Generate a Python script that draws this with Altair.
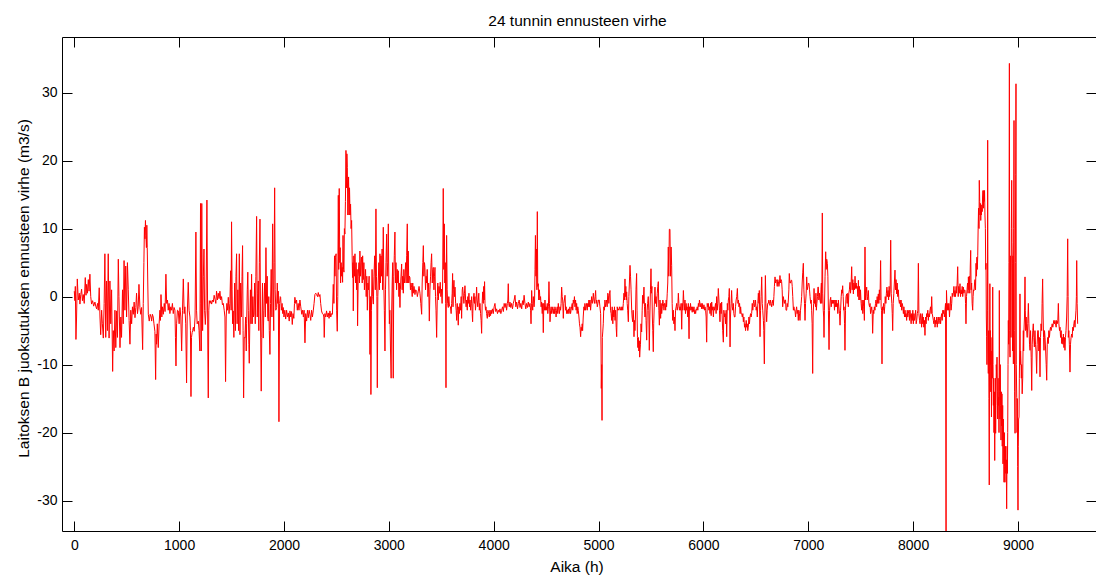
import altair as alt
import pandas as pd

# ---- data (hours, forecast error m3/s) ----
seg_a = [
(0,0.8),(6,-0.6),(10,1.5),(16,-6.3),(22,-3.0),(29,2.6),(38,-0.5),(48,0.5),(54,-1.1),(62,0.3),
(70,1.1),(78,-0.6),(86,0.3),(95,-1.0),(105,2.8),(112,0.2),(118,1.8),(125,0.5),(134,2.5),(141,0.8),
(149,3.3),(157,0.0),(165,-1.1),(175,-0.6),(185,-1.4),(197,-0.8),(205,-1.4),(213,-1.8),(222,-1.0),(229,-2.0),
(238,1.3),(245,-3.0),(252,-5.6),(261,-2.0),(268,-4.0),(277,-6.1),(285,-1.0),(292,6.3),(300,-6.0),(308,2.3),
(316,-5.0),(324,6.3),(332,-6.1),(340,2.3),(348,-4.0),(356,1.0),(366,-11.0),(372,-5.0),(380,-8.0),(388,-2.0),
(396,-7.5),(404,-2.1),(412,-6.0),(420,5.5),(426,0.0),(436,-7.5),(444,-3.0),(451,-6.0),(460,1.0),(467,-4.0),
(475,5.3),(483,-2.0),(491,4.5),(499,-3.0),(507,5.0),(515,1.0),(523,-3.5),(531,-7.0),(539,-2.0),(547,-4.0),
(555,-1.5),(563,-2.6),(571,-0.8),(579,-3.1),(587,-1.6),(594,0.5),(603,-2.5),(610,-1.5),(617,1.8),(626,-1.6),
(634,-2.6),(642,-1.6),(652,-7.8),(658,-1.0),(664,5.0),(669,10.2),(674,8.5),(679,11.2),(683,9.0),(688,7.2),
(692,10.5),(696,7.2),(701,2.0),(706,-2.6),(715,-3.6),(724,-2.6),(733,-3.0),(738,-3.6),(745,-2.6),(753,-3.0),
(760,-4.0),(769,-5.1),(776,-12.2),(781,-5.5),(785,-7.0),(792,-4.0),(801,-7.5),(809,-4.0),(817,-2.0),(822,-3.5),
(827,0.3),(835,-3.0),(841,-1.5),(849,-2.6),(858,-1.0),(866,-2.2),(874,3.3),(881,-1.0),(889,-0.5),(896,-2.0),
(904,-1.0),(912,-2.5),(920,-1.5),(928,-2.0),(936,-1.0),(944,-2.5),(952,-1.6),(960,-2.0),(965,-6.0),(970,-10.2),
(976,-4.0),(984,-2.0),(992,-2.1),(1000,-4.0),(1008,-1.6),(1016,-3.0),(1024,-8.0),(1032,-2.0),(1040,2.6),(1048,-2.5),
(1055,-1.5),(1063,-4.0),(1071,-12.7),(1077,-3.0),(1087,2.1),(1095,-2.0),(1103,-3.0),(1108,-5.0),(1113,-14.7),(1118,-6.0),
(1124,-5.3),(1129,-5.0),(1136,-4.5),(1144,-5.1),(1152,-3.0),(1160,9.5),(1166,-2.0),(1172,-4.0),(1183,-3.6),(1190,-5.0),
(1198,-8.0),(1204,13.7),(1208,-1.0),(1211,-8.0),(1216,13.7),(1220,2.0),(1224,-5.0),(1231,3.0),(1237,7.0),(1243,-2.0),
(1250,-4.1),(1256,-2.0),(1265,14.2),(1270,2.0),(1274,-8.0),(1278,-14.9),(1283,-2.0),(1288,-0.6),(1294,-1.0),(1302,-0.6),
(1310,-1.1),(1318,-0.5),(1326,-0.8),(1334,0.2),(1342,-0.4),(1350,-1.0),(1357,0.8),(1365,-0.5),(1373,0.5),(1381,-0.3),
(1389,0.8),(1397,-0.5),(1405,0.0),(1413,-1.2),(1421,-1.0),(1430,-2.0),(1437,-3.0),(1443,-12.5),(1449,-3.0),(1455,-1.0),
(1462,-2.0),(1469,-0.1),(1476,-2.5),(1484,-1.0),(1491,3.8),(1496,-2.0),(1500,11.0),(1505,1.0),(1510,-4.0),(1516,-2.1),
(1522,-6.0),(1530,2.0),(1537,-5.0),(1542,3.0),(1548,6.3),(1553,-4.0),(1560,1.0),(1567,-5.0),(1574,6.3),(1580,-5.6),
(1587,2.0),(1594,-3.0),(1600,3.0),(1605,7.5),(1610,-5.0),(1615,-14.9),(1621,-6.0),(1628,-6.1),(1634,-3.0),(1640,-8.0),
(1644,-4.0),(1650,1.0),(1655,3.6),(1660,-2.0),(1665,-7.0),(1669,-9.8),(1675,-3.0),(1680,1.0),(1685,-4.0),(1691,3.3),
(1697,-4.0),(1703,0.0),(1709,-3.0),(1714,-2.6),(1720,2.0),(1726,-4.0),(1732,3.0),(1739,11.8),(1745,-3.0),(1750,0.5),
(1755,2.3),(1760,-5.0),(1765,5.0),(1771,11.4),(1776,-3.0),(1783,-13.9),(1788,-6.0),(1795,2.0),(1802,-6.1),(1808,-2.0),
(1815,2.0),(1822,-3.0),(1828,7.2),(1834,-1.0),(1840,3.0),(1845,-3.0),(1850,-3.6),(1855,0.0),(1860,-5.0),(1866,-8.5),
(1872,-1.0),(1878,4.0),(1885,-3.0),(1892,10.7),(1897,2.0),(1902,-5.0),(1906,5.0),(1911,16.0),(1916,1.0),(1922,-2.0),
(1930,-1.6),(1936,2.0),(1941,-1.0),(1946,0.8),(1952,-18.4),(1958,-1.0),(1964,0.0),(1968,-0.1),(1975,-2.0),(1982,-1.0),
(1988,-2.5),(1993,-1.6),(2000,-3.0),(2008,-2.0),(2016,-3.3),(2025,-2.0),(2033,-3.0),(2041,-2.4),(2050,-3.6),(2057,-2.1),
(2065,-3.0),(2072,-2.2),(2079,-4.1),(2086,-2.5),(2094,-3.2),(2100,-1.0),(2104,-0.1),(2112,-1.0),(2120,-0.5),(2127,-2.0),
(2135,-1.0),(2143,-2.0),(2152,-0.5),(2160,-1.5),(2170,-2.6),(2178,-2.0),(2185,-3.0),(2192,-2.0),(2200,-6.8),(2207,-2.5),
(2216,-3.6),(2224,-2.0),(2232,-3.1),(2240,-2.0),(2247,-2.6),(2255,-3.5),(2263,-2.0),(2271,-3.0),(2279,-2.1),(2287,-1.0),
(2295,0.3),(2303,0.5),(2311,0.3),(2320,0.0),(2327,0.6),(2335,0.0),(2343,0.3),(2350,-1.0),(2358,-2.1),(2366,-2.5),
(2375,-2.6),(2380,-3.0),(2384,-6.0),(2390,-2.5),(2398,-3.0),(2406,-2.1),(2414,-3.0),(2422,-2.4),(2430,-3.2),(2438,-2.1),
(2446,-3.0),(2454,-2.5),(2462,-2.6),(2470,1.8),(2476,-1.0),(2482,6.0),(2486,3.0),(2491,5.8),(2497,6.3),(2502,-2.0),
(2508,-5.1),(2513,0.0),(2518,14.9),(2522,4.0),(2527,15.9),(2532,5.0),(2536,7.2),(2540,2.0),(2545,5.0),(2550,3.0),
(2555,4.3),(2559,2.1),(2563,9.0),(2568,4.0),(2572,3.6),(2576,10.0),(2581,9.2),(2586,14.0),(2591,21.5),(2596,16.0),
(2600,21.0),(2604,19.0),(2609,12.0),(2616,17.6),(2621,12.0),(2625,16.0),(2630,12.0),(2635,13.6),(2640,10.0),(2645,11.2),
(2650,6.0),(2654,2.8),(2658,5.0),(2661,-2.1),(2666,6.0),(2672,3.0),(2677,6.3),(2682,2.0),(2688,5.0),(2693,1.0),
(2698,4.0),(2702,-4.3),(2708,3.0),(2715,5.0),(2720,2.0),(2724,6.7),(2730,3.0),(2735,5.0),(2740,5.8),(2746,2.0),
(2750,6.0),(2756,2.5),(2762,5.0),(2767,1.0),(2772,2.5),(2778,4.0),(2784,0.0),(2790,3.0),(2795,-2.0),(2800,2.0),
(2806,1.0),(2812,3.0),(2816,-3.0),(2820,-8.5),(2825,0.0),(2829,-14.4),(2834,-2.0),(2840,4.0),(2846,0.0),(2852,-1.1),
(2858,3.0),(2865,6.0),(2871,1.0),(2877,12.9),(2882,3.0),(2886,0.0),(2890,-13.4),(2895,0.0),(2899,2.3),(2905,5.0),
(2910,1.0),(2915,6.3),(2920,2.0),(2925,6.0),(2931,3.0),(2936,7.0),(2941,1.0),(2947,10.2),(2952,2.0),(2957,-2.0),
(2963,-8.0),(2968,1.0),(2973,5.0),(2979,9.2),(2984,3.0),(2990,5.0),(2995,10.7),(3000,2.0),(3005,-4.0),(3010,-2.0),
(3016,-8.0),(3022,-12.0),(3026,-3.0),(3032,2.0),(3037,5.0),(3042,-12.0),(3047,3.0),(3052,6.0),(3058,9.5),(3063,2.0),
(3068,5.0),(3074,1.0),(3080,4.0),(3085,2.0),(3090,3.8),(3096,0.0),(3100,2.0),(3106,-1.6),(3110,1.0),(3116,3.0),
(3122,4.8),(3127,1.0),(3132,3.0),(3138,0.5),(3143,4.0),(3149,2.0),(3154,3.0),(3160,5.0),(3165,2.0),(3170,6.0),
(3176,10.7),(3180,2.0),(3185,6.7),(3190,2.0),(3196,3.0),(3201,2.8),(3206,1.0),(3212,2.0),(3217,1.3),(3223,0.0),
(3228,2.0),(3233,0.5),(3240,1.5),(3249,0.3),(3256,1.0),(3265,0.8),(3272,0.0),(3281,0.8),(3288,1.5),(3297,0.5),
(3305,-1.0),(3313,-2.6),(3318,2.0),(3324,5.0),(3329,7.5),(3334,3.0),(3340,5.0),(3344,4.3),(3350,1.0),(3356,3.0),
(3360,2.0),(3366,4.0),(3372,0.0),(3380,2.0),(3386,-3.6),(3392,1.0),(3398,3.0),(3403,5.0),(3408,6.3),(3414,2.0),
(3419,4.0),(3424,4.3),(3430,1.0),(3435,3.0),(3440,4.3),(3445,0.0),(3450,-2.0),(3456,-6.0),(3462,0.0),(3467,2.0),
(3472,-0.5),(3478,1.5),(3484,0.5),(3490,2.1),(3496,0.0),(3503,1.1),(3508,-1.0),(3513,2.0),(3519,15.9),(3524,4.0),
(3529,10.7),(3534,2.0),(3538,5.0),(3542,-1.0),(3545,-13.4),(3548,2.0),(3551,9.0),(3556,1.0),(3561,-1.0),(3567,-1.6),
(3572,0.0),(3578,-1.4),
]

seg_b = [
(3588,-1.5),(3594,-2.5),(3599,-1.0),(3604,0.5),(3608,3.4),(3612,-1.5),(3615,1.0),(3621,2.4),(3626,0.0),(3631,1.4),
(3637,-1.0),(3642,-2.0),(3647,-3.5),(3652,-1.0),(3657,-2.0),(3662,-4.2),(3667,-1.5),(3672,-2.5),(3678,-1.0),(3684,-2.0),
(3690,0.0),(3694,-3.2),(3700,1.0),(3704,1.4),(3710,0.2),(3716,-1.0),(3721,0.5),(3726,1.6),(3732,-0.5),(3737,-1.5),
(3742,-0.5),(3748,-2.0),(3753,0.0),(3758,-1.0),(3764,0.5),(3769,-1.5),(3774,-0.5),(3780,-2.0),(3785,-1.0),(3790,0.0),
(3795,-2.5),(3799,-3.7),(3803,-1.0),(3806,-0.5),(3812,0.5),(3816,-1.0),(3821,0.0),(3826,-2.0),(3831,-1.0),(3837,1.4),
(3842,-0.5),(3848,-1.5),(3853,-0.5),(3858,0.5),(3863,-2.0),(3869,-1.0),(3875,-2.5),(3880,-3.5),(3885,-5.4),(3890,-1.0),
(3895,0.7),(3901,-1.0),(3905,1.5),(3909,-0.5),(3913,2.2),(3917,-1.0),(3922,-2.0),(3926,-1.5),(3932,-2.5),(3939,-3.2),
(3945,-2.0),(3952,-2.5),(3958,-3.0),(3964,-2.0),(3970,-2.8),(3976,-2.0),(3980,-2.5),(3988,-1.8),(3996,-2.5),(4004,-1.5),
(4012,-1.0),(4020,-2.2),(4028,-1.8),(4036,-2.5),(4044,-2.0),(4052,-2.3),(4060,-1.8),(4068,-2.5),(4076,-2.0),(4084,-1.5),
(4092,-2.2),(4100,-1.0),(4108,-1.6),(4116,-1.0),(4123,-2.0),(4130,-1.0),(4135,-0.5),(4139,1.9),(4143,-1.0),(4149,-1.5),
(4155,-0.8),(4163,-1.6),(4171,-1.0),(4179,-1.8),(4187,-1.0),(4195,-0.5),(4203,0.2),(4211,-1.5),(4219,-0.8),(4227,-1.8),
(4235,-1.0),(4243,-0.5),(4251,-1.6),(4259,-1.0),(4267,-1.8),(4275,-0.6),(4282,-1.2),(4290,0.2),(4298,-1.0),(4306,-1.8),
(4314,-1.0),(4322,-1.6),(4330,-0.8),(4338,-1.5),(4346,-1.0),(4352,-2.0),(4356,-4.0),(4360,-1.0),(4362,0.9),(4367,-1.0),
(4372,-2.0),(4378,0.0),(4385,-1.5),(4390,-0.5),(4394,4.0),(4398,9.0),(4403,3.0),(4407,7.0),(4412,1.0),(4416,12.5),
(4420,1.5),(4425,1.9),(4430,-0.5),(4436,1.0),(4441,-0.5),(4447,0.0),(4452,-1.5),(4457,-0.8),(4463,-2.5),(4468,-1.0),
(4473,-5.3),(4478,-1.0),(4484,-2.0),(4489,-0.5),(4495,-2.0),(4500,-1.5),(4505,-2.0),(4511,-1.0),(4516,-2.5),(4522,-1.5),
(4527,2.2),(4532,-1.0),(4537,-3.7),(4543,-2.0),(4548,-1.5),(4553,-2.5),(4559,-2.0),(4564,-1.5),(4569,-2.5),(4575,-1.8),
(4580,-2.5),(4584,-1.5),(4590,-2.0),(4595,-3.0),(4600,-2.0),(4606,-1.5),(4611,-2.5),(4616,-1.0),(4622,-2.0),(4627,-2.5),
(4632,-1.5),(4638,-2.0),(4643,-1.0),(4648,1.4),(4653,0.0),(4658,-0.5),(4664,-3.2),(4669,-1.0),(4674,-0.5),(4680,0.2),
(4686,-2.0),(4691,-1.5),(4696,-2.5),(4702,-2.0),(4707,-2.5),(4712,-1.8),(4718,-2.5),(4723,-2.0),(4727,-1.5),(4733,-2.5),
(4738,-2.0),(4743,-1.5),(4749,-1.0),(4754,-2.0),(4759,-0.5),(4765,-1.0),(4770,0.0),(4775,-1.5),(4781,-0.5),(4786,-2.0),
(4791,-1.0),(4796,-2.5),(4802,-1.5),(4807,-2.0),(4813,-3.0),(4818,-4.0),(4823,-4.5),(4829,-5.9),(4834,-4.5),(4840,-5.0),
(4844,-4.0),(4848,-5.0),(4854,-3.0),(4860,-1.5),(4865,-2.0),(4870,-1.0),(4876,-2.0),(4881,-1.5),(4886,-1.0),(4892,-2.0),
(4897,-1.0),(4902,-1.5),(4908,-0.5),(4913,-1.5),(4918,-0.5),(4924,-2.0),(4929,-1.0),(4934,0.0),(4940,-1.0),(4945,-0.5),
(4950,0.5),(4956,-0.5),(4961,-1.0),(4967,0.0),(4972,0.9),(4977,-1.0),(4983,-0.5),(4988,-1.5),(4994,-1.0),(5000,-0.5),
(5007,-0.5),(5013,-1.5),(5020,-2.5),(5024,-8.0),(5026,-13.5),(5030,-10.0),(5033,-18.2),(5036,-6.0),(5040,-5.2),(5045,-4.0),
(5050,-1.5),(5056,-2.0),(5061,-0.5),(5066,-1.5),(5072,-1.0),(5077,-0.5),(5082,-1.5),(5088,0.5),(5093,0.2),(5098,-1.0),
(5104,0.5),(5109,0.9),(5114,-2.0),(5120,-2.5),(5125,-3.5),(5130,-1.5),(5136,-4.0),(5141,-2.0),(5146,-3.0),(5152,-1.5),
(5157,-3.5),(5163,-2.0),(5168,-4.5),(5173,-5.9),(5178,-1.5),(5183,-2.0),(5188,-1.8),(5194,-2.0),(5199,-1.5),(5204,-1.8),
(5210,-2.0),(5215,-1.5),(5220,-2.0),(5226,-1.5),(5231,-2.0),(5236,-1.0),(5242,0.5),(5247,-0.5),(5252,2.6),(5256,0.0),
(5260,1.5),(5264,-0.5),(5268,0.7),(5273,-1.0),(5278,-2.0),(5284,-3.7),(5289,0.0),(5294,2.0),(5300,4.6),(5305,3.0),
(5310,1.0),(5316,-2.0),(5320,-3.0),(5325,-3.7),(5330,-2.0),(5334,-3.0),(5338,-5.9),(5342,-3.5),(5347,-5.0),(5352,-3.0),
(5357,1.0),(5363,3.4),(5367,-2.0),(5371,-6.0),(5375,-7.5),(5379,-6.0),(5384,-8.0),(5389,-6.5),(5392,-8.9),(5395,-8.0),
(5400,-7.0),(5405,-4.0),(5411,-5.2),(5416,-2.0),(5420,0.2),(5426,-1.0),(5433,1.4),(5438,-1.5),(5443,-3.0),(5448,-1.0),
(5453,-3.5),(5459,-6.4),(5464,-2.0),(5468,-1.0),(5474,0.0),(5479,-2.0),(5484,-7.9),(5489,-3.0),(5495,1.0),(5500,4.1),
(5504,0.5),(5509,1.5),(5513,-3.0),(5517,-5.0),(5522,-8.1),(5526,-4.0),(5531,-1.5),(5538,1.4),(5543,-1.0),(5548,0.0),
(5554,-1.5),(5560,0.5),(5565,1.5),(5570,2.2),(5575,-2.0),(5580,-4.2),(5586,-0.5),(5592,-3.2),(5597,-1.0),(5602,-2.5),
(5608,-1.5),(5613,-0.5),(5618,-1.0),(5624,-2.0),(5629,-1.0),(5634,-1.0),(5640,-2.0),(5645,-0.5),(5649,-1.5),(5655,0.5),
(5660,2.0),(5665,7.3),(5670,3.0),(5675,9.9),(5681,9.9),
]

seg_c = [
(5686,3.0),(5692,7.3),(5697,4.6),(5702,-1.0),(5707,-3.5),(5713,-2.0),(5718,-4.0),(5724,-3.0),(5729,-5.0),(5734,-2.0),
(5740,-1.5),(5745,-1.0),(5750,-2.0),(5756,-1.5),(5761,0.5),(5766,-1.0),(5771,-2.0),(5777,-1.5),(5782,-2.0),(5787,-1.0),
(5793,-4.8),(5798,-1.0),(5803,-2.0),(5809,0.9),(5814,-1.0),(5819,-2.0),(5824,-0.5),(5829,-2.5),(5835,-1.0),(5840,-2.0),
(5845,-1.5),(5850,-3.0),(5856,-1.0),(5863,-6.2),(5867,-1.5),(5872,-2.0),(5877,-1.0),(5882,-2.0),(5888,-1.5),(5893,-2.3),
(5898,-1.5),(5904,-2.2),(5910,-1.5),(5915,-2.5),(5920,-2.0),(5926,-2.5),(5931,-1.8),(5936,-2.0),(5941,-1.5),(5947,-2.0),
(5952,-1.0),(5958,-1.5),(5962,-0.5),(5967,-1.0),(5972,-1.5),(5978,-1.0),(5983,-1.8),(5989,-1.0),(5994,-1.8),(5999,-1.8),
(6005,-1.2),(6010,-2.0),(6015,-1.5),(6021,-2.0),(6026,-3.0),(6031,-6.7),(6036,-1.0),(6042,-1.5),(6047,-1.0),(6052,-2.0),
(6058,-1.5),(6063,-2.5),(6068,-1.0),(6074,-2.8),(6079,-0.8),(6084,-2.0),(6090,-1.5),(6095,-3.0),(6100,-1.5),(6106,-2.0),
(6111,-1.5),(6116,-1.0),(6121,-2.5),(6126,0.0),(6132,-2.0),(6137,-1.0),(6142,1.2),(6148,-0.5),(6153,-2.0),(6158,-3.7),
(6163,-1.0),(6169,-2.5),(6174,-0.8),(6179,-3.0),(6184,-5.0),(6190,-6.7),(6195,-2.0),(6201,-3.0),(6206,-2.5),(6211,-4.0),
(6217,-2.0),(6222,-5.9),(6228,-1.0),(6233,-2.0),(6238,-0.5),(6243,0.0),(6247,1.2),(6251,-3.0),(6254,-7.4),(6258,-3.0),
(6264,-1.0),(6269,0.9),(6275,-1.5),(6280,-2.0),(6285,-1.0),(6290,-2.5),(6296,-3.0),(6301,-3.0),(6306,-1.5),(6312,-0.5),
(6318,0.0),(6324,1.2),(6329,-1.0),(6334,-0.5),(6339,-1.5),(6345,-1.0),(6350,-2.5),(6355,-1.5),(6360,-2.5),(6365,-2.5),
(6371,-3.0),(6376,-2.5),(6381,-3.7),(6386,-3.0),(6392,-4.5),(6397,-4.0),(6402,-5.0),(6408,-3.5),(6413,-4.5),(6418,-4.0),
(6423,-5.0),(6428,-4.5),(6434,-3.0),(6439,-4.0),(6444,-3.0),(6450,-2.5),(6455,-3.0),(6460,-2.5),(6466,-1.0),(6471,-2.0),
(6476,-1.0),(6481,-0.5),(6487,-1.5),(6492,-1.3),(6497,-0.5),(6503,-2.0),(6508,-1.5),(6514,-3.0),(6519,-1.0),(6524,0.5),
(6530,-1.0),(6533,0.9),(6537,-3.0),(6540,-5.9),(6545,-2.0),(6550,0.0),(6556,2.9),(6561,-1.0),(6566,-2.0),(6572,-3.5),
(6576,-5.0),(6581,-9.9),(6585,-4.0),(6591,3.1),(6596,-1.0),(6603,-3.7),(6608,-2.0),(6613,-1.0),(6619,-1.0),(6624,-0.5),
(6630,-1.0),(6635,-1.3),(6640,-0.5),(6646,-1.0),(6651,-1.5),(6656,-1.0),(6662,-0.5),(6667,-1.3),(6672,0.0),(6677,1.5),
(6683,2.9),(6688,2.0),(6693,2.5),(6699,2.2),(6704,1.5),(6709,2.5),(6715,2.2),(6720,1.5),(6725,2.0),(6730,3.1),
(6736,2.0),(6741,2.5),(6746,2.2),(6751,1.0),(6756,-1.5),(6762,0.0),(6767,-0.5),(6772,-1.0),(6778,-0.5),(6783,-0.5),
(6788,-2.0),(6794,-2.0),(6799,-1.0),(6805,-1.5),(6810,-0.5),(6815,1.0),(6819,3.4),(6825,2.0),(6830,2.0),(6836,2.4),
(6842,2.4),(6847,1.5),(6852,0.0),(6858,-2.0),(6863,-1.5),(6868,-2.0),(6873,-2.0),(6879,-3.0),(6884,-2.0),(6889,-1.5),
(6894,-2.5),(6900,-2.0),(6905,-3.5),(6910,-2.0),(6916,-2.5),(6921,-3.5),(6926,-2.0),(6932,-1.0),(6937,0.0),(6942,2.0),
(6947,3.5),(6953,4.9),(6958,1.0),(6964,-1.0),(6969,-3.5),(6974,-1.0),(6980,0.5),(6985,2.9),(6990,1.0),(6996,1.5),
(7001,2.0),(7007,1.9),(7012,1.0),(7017,0.0),(7023,-1.0),(7028,-0.5),(7032,-2.0),(7037,-4.0),(7042,-11.3),(7046,-3.0),
(7051,-1.0),(7055,1.2),(7060,-1.0),(7064,-0.5),(7069,-1.5),(7073,0.5),(7077,-2.0),(7082,-1.0),(7088,0.0),(7092,1.4),
(7096,1.4),(7101,-0.5),(7107,0.5),(7112,-0.5),(7117,-1.0),(7121,1.0),(7125,2.0),(7129,-1.0),(7134,12.3),(7138,0.5),
(7143,-2.0),(7147,-3.0),(7150,-6.0),(7154,-2.0),(7160,3.0),(7166,6.6),(7171,4.0),(7176,5.5),(7182,4.9),(7187,3.0),
(7192,-2.0),(7198,-7.8),(7203,-2.0),(7209,-0.5),(7214,-0.1),(7219,-1.5),(7225,-0.5),(7230,-1.0),(7235,-0.5),(7239,-1.0),
(7245,-0.5),(7250,-2.0),(7255,-0.5),(7261,-1.5),(7266,-0.5),(7271,-1.5),(7277,-1.0),(7282,-2.5),(7287,-0.5),(7292,-1.5),
(7298,-2.5),(7303,-4.2),(7308,-2.0),(7314,0.0),(7319,1.0),(7324,0.5),(7328,1.6),(7333,0.0),(7338,-2.0),(7341,-1.5),
(7346,-4.0),(7350,-7.9),(7355,-2.0),(7360,0.0),(7366,0.4),(7371,-1.0),(7377,0.5),(7382,-1.5),(7387,0.5),(7392,1.0),
(7398,2.1),(7403,0.5),(7409,2.0),(7414,4.4),(7419,1.0),(7425,2.5),(7430,0.4),(7435,2.0),(7441,1.0),(7446,3.0),
(7451,1.2),(7457,2.0),(7462,1.2),(7467,1.5),(7473,0.0),(7478,2.4),(7483,-0.5),
]

seg_d = [
(7488,1.5),(7493,-0.5),(7498,1.0),(7504,-1.0),(7509,-2.0),(7514,-0.5),(7520,-2.5),(7525,-1.5),(7530,-0.5),(7535,-3.5),
(7541,7.3),(7546,-0.5),(7551,0.5),(7557,1.4),(7562,-0.5),(7567,0.0),(7573,0.9),(7578,-1.0),(7584,-1.5),(7589,-1.0),
(7594,-2.5),(7600,-2.0),(7605,-1.5),(7610,-2.5),(7614,-5.4),(7620,-2.0),(7625,-2.5),(7630,-1.5),(7636,-2.0),(7641,-1.0),
(7646,-0.5),(7652,-1.5),(7657,0.0),(7662,-1.0),(7668,0.4),(7673,-1.0),(7678,1.0),(7684,-0.5),(7690,5.3),(7695,-1.5),
(7699,-2.0),(7703,-9.9),(7708,-1.5),(7713,-2.0),(7718,-1.0),(7724,-2.5),(7729,-1.5),(7734,0.0),(7740,-1.0),(7745,0.5),
(7750,1.4),(7755,0.0),(7761,0.9),(7766,-0.5),(7771,1.5),(7776,0.0),(7781,1.0),(7786,8.3),(7791,0.5),(7797,-1.0),
(7801,-2.5),(7805,-5.0),(7810,-1.0),(7816,0.5),(7821,2.0),(7827,3.9),(7832,1.0),(7837,2.5),(7843,0.4),(7848,2.0),
(7853,0.0),(7859,1.0),(7864,-0.5),(7869,-1.0),(7875,-0.5),(7880,-1.5),(7885,-0.5),(7891,-2.0),(7896,-1.0),(7902,-1.5),
(7907,-2.5),(7912,-1.5),(7918,-3.0),(7923,-2.0),(7928,-3.0),(7933,-2.5),(7938,-3.5),(7944,-2.0),(7949,-3.0),(7954,-2.5),
(7960,-2.0),(7965,-3.5),(7970,-2.0),(7976,-3.0),(7981,-4.0),(7986,-2.5),(7992,-3.5),(7997,-2.0),(8002,-4.0),(8008,-2.5),
(8013,-3.5),(8018,-3.0),(8024,-2.0),(8029,-4.0),(8034,-3.5),(8040,-2.5),(8045,-2.0),(8050,4.9),(8055,-2.5),(8061,-3.5),
(8066,-4.0),(8071,-2.5),(8076,-3.0),(8081,-4.5),(8087,-2.5),(8092,-4.0),(8097,-3.0),(8102,-4.5),(8108,-3.5),(8113,-5.7),
(8118,-3.0),(8124,-4.0),(8129,-2.5),(8134,-3.0),(8140,-2.0),(8145,-3.5),(8150,-2.5),(8156,-3.0),(8161,-2.0),(8166,-1.5),
(8172,-2.5),(8177,0.0),(8182,-2.5),(8188,-3.0),(8193,-3.5),(8198,-4.0),(8204,-3.0),(8209,-4.5),(8214,-3.5),(8220,-4.0),
(8225,-3.0),(8230,-4.5),(8235,-3.5),(8240,-3.0),(8246,-4.0),(8251,-3.5),(8256,-3.0),(8262,-4.0),(8267,-3.0),(8272,-2.5),
(8277,-3.5),(8283,-2.0),(8288,-2.5),(8293,-2.0),(8298,-3.0),(8304,-2.0),(8309,-1.0),(8314,-36.0),(8318,0.9),(8322,-1.0),
(8326,-2.0),(8331,-1.0),(8336,-2.0),(8341,-1.0),(8347,-3.0),(8352,-1.5),(8357,0.0),(8362,-2.0),(8368,-1.0),(8373,0.5),
(8378,0.0),(8384,0.5),(8389,1.5),(8394,0.0),(8399,0.9),(8404,0.0),(8410,1.5),(8415,0.5),(8420,2.0),(8425,4.4),
(8430,0.0),(8435,1.5),(8441,0.5),(8447,1.9),(8452,0.0),(8457,1.0),(8463,0.4),(8468,1.5),(8473,0.0),(8479,1.4),
(8484,0.5),(8490,1.0),(8495,0.9),(8500,-1.0),(8504,-4.0),(8509,0.0),(8514,1.0),(8519,2.0),(8524,0.5),(8527,2.9),
(8531,1.0),(8536,3.0),(8540,0.5),(8545,4.5),(8549,6.8),(8553,1.0),(8558,2.0),(8563,-1.0),(8568,-2.0),(8572,0.0),
(8576,1.0),(8581,0.9),(8586,2.0),(8590,2.5),(8595,1.0),(8600,4.9),(8604,3.0),(8608,5.8),(8612,4.0),(8616,6.0),
(8620,10.0),(8624,13.0),(8628,10.0),(8631,17.1),(8635,14.0),(8638,12.0),(8642,13.7),(8645,11.2),(8648,13.0),(8651,12.0),
(8655,13.5),(8659,12.5),(8662,14.5),(8666,15.6),(8670,13.0),(8674,15.6),(8678,14.0),(8681,15.6),(8685,12.0),(8689,10.0),
(8692,4.0),(8695,4.9),(8698,-3.0),(8701,-5.9),(8704,-10.0),(8708,-2.0),(8711,23.0),(8714,-8.0),(8717,-11.3),(8720,-5.0),
(8723,-15.0),(8726,-27.7),(8729,-8.0),(8732,1.9),(8735,-10.0),(8738,-5.0),(8741,-14.0),(8744,-8.0),(8747,-17.7),(8750,-10.0),
(8753,-6.0),(8756,-12.0),(8759,1.4),(8762,-10.0),(8765,-16.0),(8768,-12.0),(8771,-20.0),(8774,-14.0),(8778,-24.1),(8781,-18.0),
(8784,-12.0),(8787,-20.1),(8790,-16.0),(8793,-10.0),(8797,-12.0),(8800,-8.9),(8803,-14.0),(8806,-18.0),(8810,-12.0),(8813,-16.0),
(8816,-14.8),(8819,-20.0),(8822,0.9),(8825,-14.0),(8828,-18.0),(8831,-10.0),(8834,-16.0),(8838,-21.1),(8841,-14.0),(8844,-19.0),
(8847,-14.3),(8850,-22.0),(8854,-16.0),(8857,-24.6),(8860,-18.0),(8864,-22.0),(8867,-27.3),(8870,-20.0),(8873,-25.0),(8876,-27.3),
(8880,-22.0),(8884,-26.0),(8888,-24.0),(8892,-31.2),(8896,-22.0),(8899,-26.0),(8902,-20.0),(8905,-10.0),(8908,-3.5),(8911,-7.0),
(8914,5.0),(8918,34.3),(8921,-5.0),(8924,-8.9),(8927,6.0),(8930,5.8),(8933,-6.0),(8937,10.0),(8940,17.1),(8943,8.0),
(8946,4.9),(8949,-8.0),(8952,6.0),(8956,-9.9),(8959,10.0),(8962,25.9),(8965,-5.0),(8968,-14.0),(8972,-20.1),(8975,5.0),
(8978,18.0),(8981,31.3),(8984,-10.0),(8988,-14.8),(8991,-20.0),(8994,-15.0),(8997,-25.0),(9000,-31.4),(9003,-22.0),(9006,-18.0),
(9010,-17.7),(9013,-12.0),(9016,-8.0),(9019,0.4),(9022,-10.0),(9025,-8.0),(9029,-9.9),(9032,-12.0),(9035,-10.0),(9040,-14.3),
(9045,-12.0),(9048,-8.0),(9051,-5.0),(9054,-8.0),(9057,-5.0),(9062,-3.0),(9067,2.9),(9070,-2.0),(9073,-5.0),(9078,-3.0),
(9083,-5.0),(9088,-6.0),(9093,-4.0),(9099,-1.0),(9104,-4.0),(9110,-7.0),(9115,-7.9),(9120,-5.0),(9126,-9.0),(9131,-13.8),
(9136,-7.0),(9141,-5.0),(9146,-4.0),(9151,-6.0),(9156,-7.4),(9162,-5.0),(9167,-7.0),(9172,-8.0),(9178,-11.3),(9183,-7.0),
(9188,-5.0),(9194,-5.0),(9199,-8.0),(9204,-6.0),(9210,-11.8),(9215,-6.0),(9220,-4.0),(9226,-5.0),(9230,-1.0),(9235,2.6),
(9240,-3.0),(9244,-6.0),(9248,-7.9),(9253,-5.0),(9258,-6.0),(9264,-8.0),(9269,-10.0),(9274,-12.3),(9279,-7.0),(9284,-6.0),
(9289,-6.9),(9294,-5.0),(9300,-6.0),(9305,-5.0),(9310,-4.5),(9316,-5.0),(9321,-4.5),(9326,-4.0),(9332,-4.5),(9337,-4.0),
(9342,-3.5),(9348,-4.0),(9353,-3.5),(9358,-4.0),(9364,-4.5),(9369,-3.5),(9374,-4.0),(9380,-3.5),(9385,-1.0),(9390,-4.0),
(9396,-5.0),(9401,-4.5),(9406,-6.0),(9412,-5.0),(9417,-6.9),(9422,-6.0),(9428,-7.0),(9433,-5.5),(9438,-7.5),(9443,-6.0),
(9448,-7.9),(9453,-6.0),(9458,-5.0),(9464,-3.0),(9469,0.0),(9474,8.5),(9478,0.0),(9480,-6.0),(9485,-5.0),(9490,-7.0),
(9496,-11.1),(9501,-7.0),(9506,-6.0),(9512,-5.5),(9517,-6.0),(9522,-4.5),(9528,-5.0),(9533,-4.0),(9538,-3.5),(9544,-4.5),
(9549,-3.0),(9553,-2.0),(9557,0.0),(9560,5.3),(9564,-1.0),(9569,-4.0),
]

x_ticks = [0, 1000, 2000, 3000, 4000, 5000, 6000, 7000, 8000, 9000]
y_ticks = [-30, -20, -10, 0, 10, 20, 30]

title_text = "24 tunnin ennusteen virhe"
x_title = "Aika (h)"
y_title = "Laitoksen B juoksutuksen ennusteen virhe (m3/s)"

rows = [p for seg in (seg_a, seg_b, seg_c, seg_d) for p in seg]
df = pd.DataFrame(rows, columns=["hours", "err"])

FONT = "Liberation Sans"
W, H = 1034, 494
xs = alt.Scale(domain=[-117, 9744], nice=False, zero=False)
ys = alt.Scale(domain=[-34.47, 38.18], nice=False, zero=False)

common = dict(grid=False, tickColor="#000000", domainColor="#000000",
              labelColor="#000000", titleColor="#000000", labelFont=FONT,
              titleFont=FONT, labelFontSize=14, titleFontSize=15.5,
              titleFontWeight="normal", tickWidth=1, domainWidth=1)
NUM = "'' + datum.value"

# main line, frame (bottom/left domain), tick labels and axis titles
line = alt.Chart(df).mark_line(color="#ff0000", strokeWidth=1, clip=True).encode(
    x=alt.X("hours:Q", scale=xs, axis=alt.Axis(
        orient="bottom", ticks=False, tickSize=0, values=x_ticks, domain=True,
        labelPadding=7, labelExpr=NUM, labelFlush=False,
        title=x_title, titleX=514.5, titleY=40.7,
        titleBaseline="alphabetic", titleAlign="center", **common)),
    y=alt.Y("err:Q", scale=ys, axis=alt.Axis(
        orient="left", ticks=False, tickSize=0, values=y_ticks, domain=True,
        labelPadding=5, labelExpr=NUM, labelFlush=False,
        title=y_title, titleAngle=270, titleX=-34, titleY=251,
        titleBaseline="alphabetic", titleAlign="center", **common)),
)

# inward ticks on top and right edges
ticks_tr = alt.Chart(df).mark_line(strokeOpacity=0).encode(
    x=alt.X("hours:Q", scale=xs, axis=alt.Axis(
        orient="top", offset=-10, tickSize=10, values=x_ticks, domain=False,
        labels=False, title="", **common)),
    y=alt.Y("err:Q", scale=ys, axis=alt.Axis(
        orient="right", offset=-10, tickSize=10, values=y_ticks, domain=False,
        labels=False, title="", **common)),
)

# inward ticks on bottom and left edges (opposite-oriented axes moved across)
ticks_bl = alt.Chart(df).mark_line(strokeOpacity=0).encode(
    x=alt.X("hours:Q", scale=xs, axis=alt.Axis(
        orient="top", offset=-H, tickSize=10, values=x_ticks, domain=False,
        labels=False, title="", **common)),
    y=alt.Y("err:Q", scale=ys, axis=alt.Axis(
        orient="right", offset=-W, tickSize=10, values=y_ticks, domain=False,
        labels=False, title="", **common)),
)

# top frame line
frame_t = alt.Chart(df).mark_line(strokeOpacity=0).encode(
    x=alt.X("hours:Q", scale=xs, axis=alt.Axis(
        orient="top", ticks=False, labels=False, domain=True, title="", **common)),
    y=alt.Y("err:Q", scale=ys, axis=alt.Axis(
        orient="left", ticks=False, labels=False, domain=False, title="", **common)),
)

chart = alt.layer(line, ticks_tr, ticks_bl, frame_t).resolve_axis(
    x="independent", y="independent"
).properties(
    width=W, height=H,
    title=alt.TitleParams(text=title_text, font=FONT, fontSize=15.5,
                          fontWeight="normal", color="#000000", anchor="middle",
                          frame="group", baseline="alphabetic", offset=10,
                          dx=-1.5, dy=15),
    padding={"left": 62, "top": 37, "right": 0, "bottom": 44},
    autosize=alt.AutoSizeParams(type="none"),
    background="#ffffff",
).configure_view(stroke=None)

chart.save("out.html", embed_options={"renderer": "svg", "actions": False})
